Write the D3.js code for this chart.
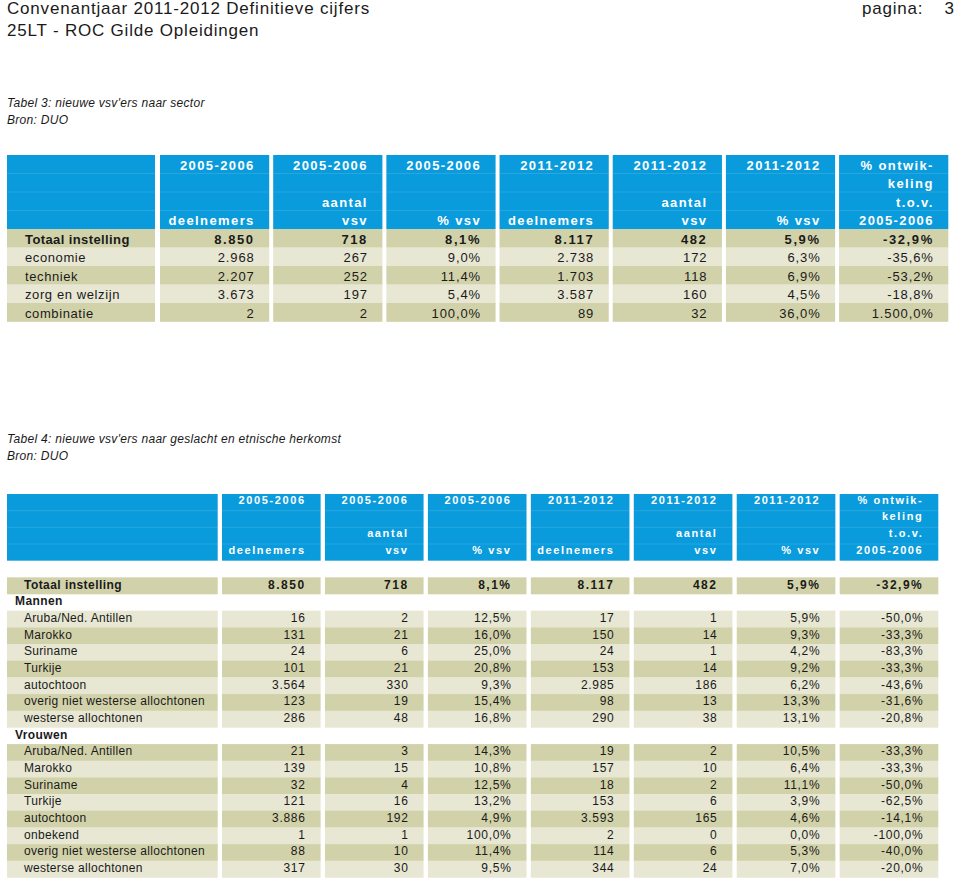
<!DOCTYPE html>
<html><head><meta charset="utf-8">
<script src="https://cdn.jsdelivr.net/npm/d3@7"></script>
<style>
body{margin:0;background:#fff}
svg{display:block;font-family:"Liberation Sans",Arial,Helvetica,sans-serif}
</style>
</head><body>
<svg id="c" width="960" height="882"></svg>
<script>
// ---------------- DATA ----------------
const pageTitle = ["Convenantjaar 2011-2012 Definitieve cijfers", "25LT - ROC Gilde Opleidingen"];
const pageLabel = "pagina:";
const pageNumber = "3";

const columnHeaders = [
  ["2005-2006", "", "", "deelnemers"],
  ["2005-2006", "", "aantal", "vsv"],
  ["2005-2006", "", "", "% vsv"],
  ["2011-2012", "", "", "deelnemers"],
  ["2011-2012", "", "aantal", "vsv"],
  ["2011-2012", "", "", "% vsv"],
  ["% ontwik-", "keling", "t.o.v.", "2005-2006"]
];
const columnTypes = ["int", "int", "pct", "int", "int", "pct", "pct"];

const t3Title = "Tabel 3: nieuwe vsv'ers naar sector";
const t3Source = "Bron: DUO";
const t3Categories = ["Totaal instelling", "economie", "techniek", "zorg en welzijn", "combinatie"];
const t3Deelnemers0506 = [8850, 2968, 2207, 3673, 2];
const t3Vsv0506 = [718, 267, 252, 197, 2];
const t3PctVsv0506 = [8.1, 9.0, 11.4, 5.4, 100.0];
const t3Deelnemers1112 = [8117, 2738, 1703, 3587, 89];
const t3Vsv1112 = [482, 172, 118, 160, 32];
const t3PctVsv1112 = [5.9, 6.3, 6.9, 4.5, 36.0];
const t3Ontwikkeling = [-32.9, -35.6, -53.2, -18.8, 1500.0];

const t4Title = "Tabel 4: nieuwe vsv'ers naar geslacht en etnische herkomst";
const t4Source = "Bron: DUO";
const t4Categories = ["Totaal instelling", "Mannen", "Aruba/Ned. Antillen", "Marokko", "Suriname", "Turkije",
  "autochtoon", "overig niet westerse allochtonen", "westerse allochtonen", "Vrouwen",
  "Aruba/Ned. Antillen", "Marokko", "Suriname", "Turkije", "autochtoon", "onbekend",
  "overig niet westerse allochtonen", "westerse allochtonen"];
const t4Deelnemers0506 = [8850, null, 16, 131, 24, 101, 3564, 123, 286, null, 21, 139, 32, 121, 3886, 1, 88, 317];
const t4Vsv0506 = [718, null, 2, 21, 6, 21, 330, 19, 48, null, 3, 15, 4, 16, 192, 1, 10, 30];
const t4PctVsv0506 = [8.1, null, 12.5, 16.0, 25.0, 20.8, 9.3, 15.4, 16.8, null, 14.3, 10.8, 12.5, 13.2, 4.9, 100.0, 11.4, 9.5];
const t4Deelnemers1112 = [8117, null, 17, 150, 24, 153, 2985, 98, 290, null, 19, 157, 18, 153, 3593, 2, 114, 344];
const t4Vsv1112 = [482, null, 1, 14, 1, 14, 186, 13, 38, null, 2, 10, 2, 6, 165, 0, 6, 24];
const t4PctVsv1112 = [5.9, null, 5.9, 9.3, 4.2, 9.2, 6.2, 13.3, 13.1, null, 10.5, 6.4, 11.1, 3.9, 4.6, 0.0, 5.3, 7.0];
const t4Ontwikkeling = [-32.9, null, -50.0, -33.3, -83.3, -33.3, -43.6, -31.6, -20.8, null, -33.3, -33.3, -50.0, -62.5, -14.1, -100.0, -40.0, -20.0];

// ---------------- FORMAT ----------------
const nl = d3.formatLocale({decimal: ",", thousands: ".", grouping: [3], currency: ["€", ""], minus: "-"});
const fmtInt = nl.format(",d");
const fmtDec = nl.format(",.1f");
const fmt = (v, type) => v == null ? "" : (type === "pct" ? fmtDec(v) + "%" : fmtInt(v));

// ---------------- STYLE ----------------
const BLUE = "#0a9bdc";
const DARK = "#d2d2aa";
const LIGHT = "#e7e7d3";
const INK = "#1a1a1a";

const svg = d3.select("#c");

// Page heading
svg.append("g").selectAll("text").data(pageTitle).join("text")
  .attr("x", 7).attr("y", (d, i) => 14 + i * 22)
  .attr("font-size", 17).style("letter-spacing", "0.8px").attr("fill", INK)
  .text(d => d);
svg.append("text").attr("x", 862).attr("y", 14).attr("font-size", 17)
  .style("letter-spacing", "0.8px").attr("fill", INK).text(pageLabel);
svg.append("text").attr("x", 954).attr("y", 14).attr("font-size", 17)
  .attr("text-anchor", "end").attr("fill", INK).text(pageNumber);

function drawTable(spec) {
  const g = svg.append("g");
  // caption
  g.append("text").attr("x", 7).attr("y", spec.captionY)
    .attr("font-size", 12).attr("font-style", "italic").style("letter-spacing", "0.3px")
    .attr("fill", INK).text(spec.title);
  g.append("text").attr("x", 7).attr("y", spec.captionY + 17)
    .attr("font-size", 12).attr("font-style", "italic").style("letter-spacing", "0.3px")
    .attr("fill", INK).text(spec.source);

  const cols = d3.range(columnHeaders.length);
  const x = d3.scaleBand().domain(cols).range(spec.colRange).paddingInner(spec.colPadding).paddingOuter(0);
  const nGrid = 4 + spec.blankRows + spec.rows.length;
  const y = d3.scaleLinear().domain([0, nGrid]).range([spec.top, spec.top + nGrid * spec.rowH]);

  // header blocks
  const hdrTop = y(0), hdrBot = y(4);
  g.append("rect").attr("x", spec.labelX0).attr("y", hdrTop)
    .attr("width", spec.labelX1 - spec.labelX0).attr("height", hdrBot - hdrTop).attr("fill", BLUE);
  g.selectAll("rect.hc").data(cols).join("rect").attr("class", "hc")
    .attr("x", c => x(c)).attr("y", hdrTop).attr("width", x.bandwidth()).attr("height", hdrBot - hdrTop)
    .attr("fill", BLUE);
  // faint separators inside header
  [1, 2, 3].forEach(k => {
    g.append("line").attr("x1", spec.labelX0).attr("x2", spec.labelX1).attr("y1", y(k)).attr("y2", y(k))
      .attr("stroke", "#ffffff").attr("stroke-opacity", 0.12);
    cols.forEach(c => g.append("line").attr("x1", x(c)).attr("x2", x(c) + x.bandwidth())
      .attr("y1", y(k)).attr("y2", y(k)).attr("stroke", "#ffffff").attr("stroke-opacity", 0.12));
  });
  // header text
  cols.forEach(c => {
    columnHeaders[c].forEach((t, k) => {
      if (!t) return;
      g.append("text").attr("x", x(c) + x.bandwidth() - spec.textPad)
        .attr("y", (y(k) + y(k + 1)) / 2 + spec.hdrShift).attr("dy", "0.35em")
        .attr("text-anchor", "end").attr("font-size", spec.hdrFont).attr("font-weight", "bold")
        .style("letter-spacing", spec.hdrSpacing + "px").attr("fill", "#ffffff").text(t);
    });
  });

  // body rows
  let stripe = 0;
  spec.rows.forEach((r, i) => {
    const gi = 4 + spec.blankRows + i;
    const y0 = y(gi), y1 = y(gi + 1), cy = (y0 + y1) / 2 + spec.textShift;
    if (r.kind === "group") {
      g.append("text").attr("x", spec.groupX).attr("y", cy).attr("dy", "0.35em")
        .attr("font-size", spec.bodyFont).attr("font-weight", "bold")
        .style("letter-spacing", "0.4px").attr("fill", INK).text(r.label);
      return;
    }
    const fill = stripe % 2 === 0 ? DARK : LIGHT;
    stripe++;
    const bold = r.kind === "total";
    g.append("rect").attr("x", spec.labelX0).attr("y", y0).attr("width", spec.labelX1 - spec.labelX0)
      .attr("height", y1 - y0 + 0.3).attr("fill", fill);
    g.append("text").attr("x", spec.labelTextX).attr("y", cy).attr("dy", "0.35em")
      .attr("font-size", spec.bodyFont).attr("font-weight", bold ? "bold" : "normal")
      .style("letter-spacing", (bold ? spec.boldLabelSpacing : spec.bodySpacing) + "px")
      .attr("fill", INK).text(r.label);
    cols.forEach(c => {
      g.append("rect").attr("x", x(c)).attr("y", y0).attr("width", x.bandwidth())
        .attr("height", y1 - y0 + 0.3).attr("fill", fill);
      g.append("text").attr("x", x(c) + x.bandwidth() - spec.textPad).attr("y", cy).attr("dy", "0.35em")
        .attr("text-anchor", "end").attr("font-size", spec.bodyFont)
        .attr("font-weight", bold ? "bold" : "normal")
        .style("letter-spacing", (bold ? spec.boldNumSpacing : spec.numSpacing) + "px")
        .attr("fill", INK).text(fmt(r.values[c], columnTypes[c]));
    });
  });
}

const t3Series = [t3Deelnemers0506, t3Vsv0506, t3PctVsv0506, t3Deelnemers1112, t3Vsv1112, t3PctVsv1112, t3Ontwikkeling];
const t3Rows = t3Categories.map((label, i) => ({
  label, kind: i === 0 ? "total" : "item", values: t3Series.map(s => s[i])
}));
const t4Series = [t4Deelnemers0506, t4Vsv0506, t4PctVsv0506, t4Deelnemers1112, t4Vsv1112, t4PctVsv1112, t4Ontwikkeling];
const t4Rows = t4Categories.map((label, i) => ({
  label, kind: i === 0 ? "total" : (t4Series[0][i] == null ? "group" : "item"), values: t4Series.map(s => s[i])
}));

drawTable({
  title: t3Title, source: t3Source, captionY: 107,
  rows: t3Rows, blankRows: 0,
  top: 155, rowH: 18.5,
  labelX0: 7, labelX1: 155, labelTextX: 25, groupX: 15,
  colRange: [160, 948.3], colPadding: 0.035, textPad: 14.5,
  hdrFont: 13, hdrSpacing: 1.4, hdrShift: 1,
  bodyFont: 13, bodySpacing: 0.6, numSpacing: 0.9, boldLabelSpacing: 0.4, boldNumSpacing: 1.6, textShift: 0.8
});

drawTable({
  title: t4Title, source: t4Source, captionY: 443,
  rows: t4Rows, blankRows: 1,
  top: 494, rowH: 16.67,
  labelX0: 7, labelX1: 217.7, labelTextX: 24, groupX: 15,
  colRange: [222, 938.3], colPadding: 0.042, textPad: 15,
  hdrFont: 11, hdrSpacing: 1.6, hdrShift: -2.5,
  bodyFont: 12, bodySpacing: 0.3, numSpacing: 0.7, boldLabelSpacing: 0.45, boldNumSpacing: 1.5, textShift: -1.3
});
</script>
</body></html>
